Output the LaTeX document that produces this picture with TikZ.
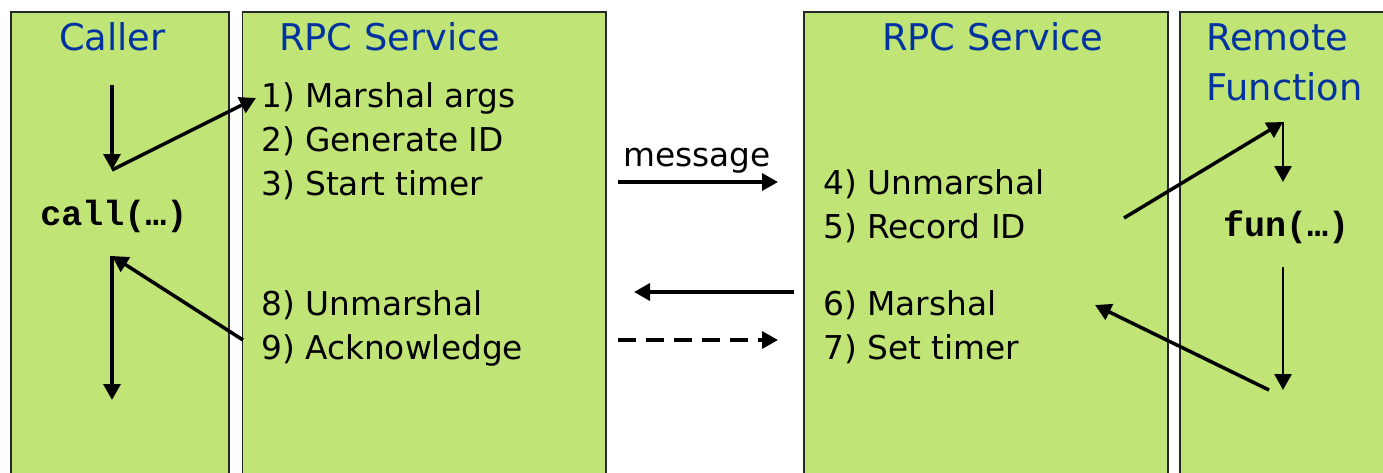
\documentclass[tikz,border=0pt]{standalone}
\usepackage{fontspec}
\setmainfont{DejaVu Sans}
\newfontfamily\codefont{Liberation Mono}
\usetikzlibrary{arrows.meta}
\definecolor{boxgreen}{RGB}{193,228,118}
\definecolor{titleblue}{RGB}{0,51,160}
\begin{document}
\begin{tikzpicture}[x=1pt,y=-1pt,
  lane/.style={draw=black!85, line width=1.5pt, fill=boxgreen, anchor=north west, inner sep=0pt},
  ttl/.style={anchor=base west, inner sep=0pt, text=titleblue, font=\fontsize{36.8}{40}\selectfont},
  item/.style={anchor=base west, inner sep=0pt, font=\fontsize{32.8}{36}\selectfont},
  code/.style={anchor=base, inner sep=0pt, font=\codefont\bfseries\fontsize{35}{40}\selectfont},
  flow/.style={line width=3.5pt, -{Triangle[length=16pt,width=17pt]}},
]
\useasboundingbox (0,0) rectangle (1383,472);
% lanes
\node[lane, minimum width=218pt, minimum height=480pt] (callerbox) at (10,11) {};
\node[lane, minimum width=363.5pt, minimum height=480pt] (rpcl) at (241.5,11) {};
\node[lane, minimum width=364pt, minimum height=480pt] (rpcr) at (803,11) {};
\node[lane, minimum width=230pt, minimum height=480pt] (remotebox) at (1179,11) {};
% titles
\node[ttl] (tcaller) at (59,50) {Caller};
\node[ttl] (trpcl) at (279,50) {RPC Service};
\node[ttl] (trpcr) at (882,50) {RPC Service};
\node[ttl] (tremote1) at (1206,50) {Remote};
\node[ttl] (tremote2) at (1206,100) {Function};
% items
\node[item] (s1) at (261,107) {1) Marshal args};
\node[item] (s2) at (261,151) {2) Generate ID};
\node[item] (s3) at (261,195) {3) Start timer};
\node[item] (s8) at (261,315) {8) Unmarshal};
\node[item] (s9) at (261,359) {9) Acknowledge};
\node[item] (s4) at (823,194) {4) Unmarshal};
\node[item] (s5) at (823,238) {5) Record ID};
\node[item] (s6) at (823,315) {6) Marshal};
\node[item] (s7) at (823,359) {7) Set timer};
\node[item] (msg) at (623,166) {message};
% code
\node[code] (call) at (114,225) {call(…)};
\node[code] (fun) at (1286,236) {fun(…)};
% arrow endpoints
\coordinate (a0) at (112,85);
\coordinate (a1) at (112,170);
\coordinate (a2) at (256,98);
\coordinate (b0) at (243,340);
\coordinate (b1) at (112,256);
\coordinate (b2) at (112,400);
\coordinate (m0) at (618,182);
\coordinate (m1) at (778,182);
\coordinate (r0) at (794,292);
\coordinate (r1) at (634,292);
\coordinate (d0) at (618,340);
\coordinate (d1) at (778,340);
\coordinate (f0) at (1124,218);
\coordinate (f1) at (1283,122);
\coordinate (f2) at (1283,182);
\coordinate (g0) at (1283,267);
\coordinate (g1) at (1283,390);
\coordinate (h0) at (1269,390);
\coordinate (h1) at (1095,305);
% connectors
\draw[flow] (a0) -- (a1);
\draw[flow] (a1) -- (a2);
\draw[flow] (b0) -- (b1);
\draw[flow] (b1) -- (b2);
\draw[flow] (m0) -- (m1);
\draw[flow] (r0) -- (r1);
\draw[flow, dash pattern=on 18pt off 10pt] (d0) -- (d1);
\draw[flow] (f0) -- (f1);
\draw[flow, line width=2.8pt] (f1) -- (f2);
\draw[flow, line width=2.8pt] (g0) -- (g1);
\draw[flow] (h0) -- (h1);
\end{tikzpicture}
\end{document}
